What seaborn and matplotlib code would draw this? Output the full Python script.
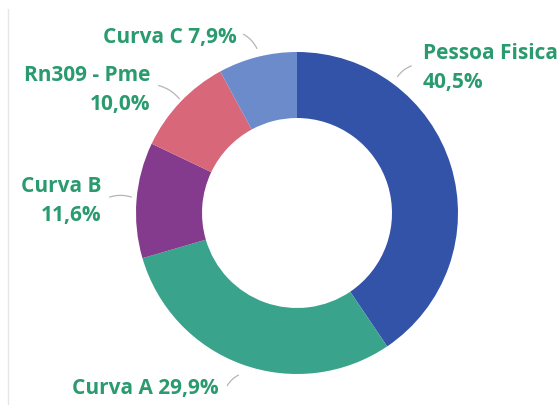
import matplotlib
matplotlib.use('Agg')
import matplotlib.pyplot as plt
import seaborn as sns

# ----------------------------------------------- DATA ----------------------------------------------- #

categories = ['Pessoa Fisica', 'Curva A', 'Curva B', 'Rn309 - Pme', 'Curva C']
shares = [40.5, 29.9, 11.6, 10.0, 7.9]
labels = ['Pessoa Fisica\n40,5%', 'Curva A 29,9%', 'Curva B\n11,6%', 'Rn309 - Pme\n10,0%', 'Curva C 7,9%']

colors = ['#3353A8', '#3AA38C', '#843B8D', '#D9677A', '#6B8BCB']
text_color = '#2A9B6E'

# ----------------------------------------------- LAYOUT ---------------------------------------------- #

W, H = 558, 406
cx, cy, R = 297, 214, 161  # donut centre and outer radius in pixels


def px(x, y):
    # pixel position -> data position (radius 1 donut)
    return (x - cx) / R, (cy - y) / R


# text anchor (px), alignment, leader line start/end (px)
label_pos = [
    ((423, 68), 'left', (414, 66), (396, 80)),
    ((219, 389), 'right', (226, 389), (241, 375)),
    ((101, 201), 'right', (107, 199), (134, 199)),
    ((150, 90), 'right', (156, 86), (181, 102)),
    ((237, 37), 'right', (241, 34), (258, 52)),
]

# ------------------------------------------------ PLOT ----------------------------------------------- #

sns.set_style('white')
plt.rcParams['font.family'] = ['Open Sans', 'DejaVu Sans']

fig = plt.figure(figsize=(W / 100, H / 100), dpi=100)
ax = fig.add_axes([0, 0, 1, 1])

ax.pie(shares, colors=colors, startangle=90, counterclock=False, radius=1,
       wedgeprops=dict(width=0.41, linewidth=0))

for lab, (pos, ha, l0, l1) in zip(labels, label_pos):
    ax.text(*px(*pos), lab, ha=ha, va='center', color=text_color, fontsize=15,
            fontweight='bold', linespacing=1.45, multialignment=ha)
    ax.annotate('', xy=px(*l1), xytext=px(*l0),
                arrowprops=dict(arrowstyle='-', color='#b5b5b5', lw=0.9,
                                connectionstyle='arc3,rad=-0.2' if ha == 'right' else 'arc3,rad=0.2'))

ax.set_xlim(-cx / R, (W - cx) / R)
ax.set_ylim(-(H - cy) / R, cy / R)
ax.set_aspect('equal')
ax.axis('off')

# thin frame line on the left
fig.add_artist(plt.Line2D([8 / W, 8 / W], [0, 1 - 10 / H], color='#e6e6e6', lw=1))

fig.savefig('out.png', dpi=100, facecolor='white')
